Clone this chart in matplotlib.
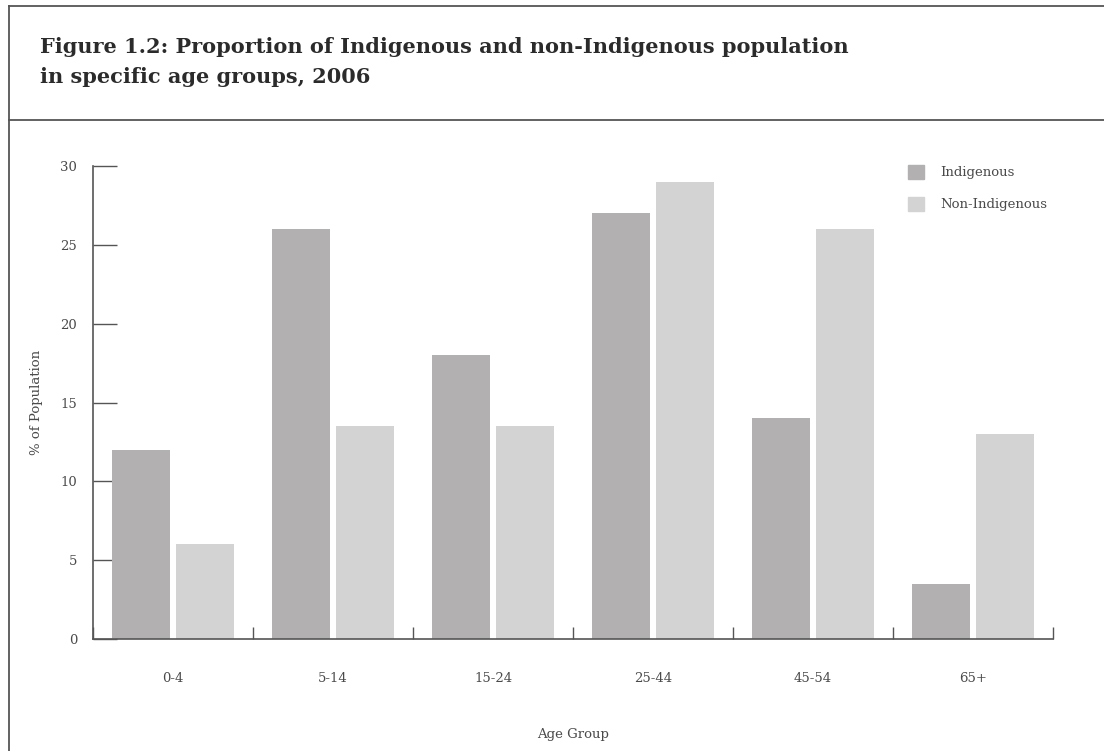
import matplotlib
matplotlib.use("Agg")
import matplotlib.pyplot as plt
from matplotlib.lines import Line2D
from matplotlib.patches import Patch
import numpy as np

# data
age_groups = ["0-4", "5-14", "15-24", "25-44", "45-54", "65+"]
indigenous = [12, 26, 18, 27, 14, 3.5]
non_indigenous = [6, 13.5, 13.5, 29, 26, 13]
series_names = ["Indigenous", "Non-Indigenous"]
y_ticks = [0, 5, 10, 15, 20, 25, 30]

title = ("Figure 1.2: Proportion of Indigenous and non-Indigenous population\n"
         "in specific age groups, 2006")

dark_grey = "#b2b0b1"
light_grey = "#d3d3d3"
text_col = "#4a4a4a"
line_col = "#555555"

plt.rcParams.update({
    "font.family": "DejaVu Serif",
    "font.size": 9.5,
    "text.color": text_col,
    "axes.labelcolor": text_col,
    "xtick.color": line_col,
    "ytick.color": line_col,
    "xtick.labelcolor": text_col,
    "ytick.labelcolor": text_col,
})

W, H = 1104, 751
fig = plt.figure(figsize=(W / 100, H / 100), dpi=100)
fig.patch.set_facecolor("white")

# frame lines around title block
fig.add_artist(Line2D([9 / W, 1], [1 - 6 / H, 1 - 6 / H], transform=fig.transFigure, color=line_col, lw=1.3))
fig.add_artist(Line2D([9 / W, 1], [1 - 120 / H, 1 - 120 / H], transform=fig.transFigure, color=line_col, lw=1.3))
fig.add_artist(Line2D([9 / W, 9 / W], [0, 1 - 6 / H], transform=fig.transFigure, color=line_col, lw=1.3))

fig.text(40 / W, 1 - 37 / H, title, ha="left", va="top", fontsize=15,
         fontweight="bold", color="#2b2b2b", linespacing=1.6)

ax = fig.add_axes([93 / W, 1 - 639 / H, 960 / W, 473 / H])

x = np.arange(len(age_groups))
w = 0.3625
ax.bar(x - 0.2, indigenous, width=w, color=dark_grey, label=series_names[0], zorder=2)
ax.bar(x + 0.2, non_indigenous, width=w, color=light_grey, label=series_names[1], zorder=2)

ax.set_xlim(-0.5, len(age_groups) - 0.5)
ax.set_ylim(0, 30)

ax.spines["top"].set_visible(False)
ax.spines["right"].set_visible(False)
for s in ["left", "bottom"]:
    ax.spines[s].set_color(line_col)
    ax.spines[s].set_linewidth(1.2)
    ax.spines[s].set_zorder(3)

ax.set_yticks(y_ticks)
ax.tick_params(axis="y", direction="in", length=17, width=1, pad=11.5)

ax.set_xticks(x)
ax.set_xticklabels(age_groups)
ax.set_xticks(np.arange(len(age_groups) + 1) - 0.5, minor=True)
ax.tick_params(axis="x", which="major", length=0, pad=24)
ax.tick_params(axis="x", which="minor", direction="in", length=8.5, width=1)

ax.set_xlabel("Age Group", labelpad=31)
ax.set_ylabel("% of Population", labelpad=12)

handles = [Patch(color=dark_grey), Patch(color=light_grey)]
fig.legend(handles, series_names, loc="upper left",
           bbox_to_anchor=(908 / W, 1 - 165 / H), frameon=False,
           handlelength=1.25, handleheight=1.25, handletextpad=1.2,
           labelspacing=1.3, borderpad=0, borderaxespad=0)

fig.savefig("out.png", dpi=100, facecolor="white")
